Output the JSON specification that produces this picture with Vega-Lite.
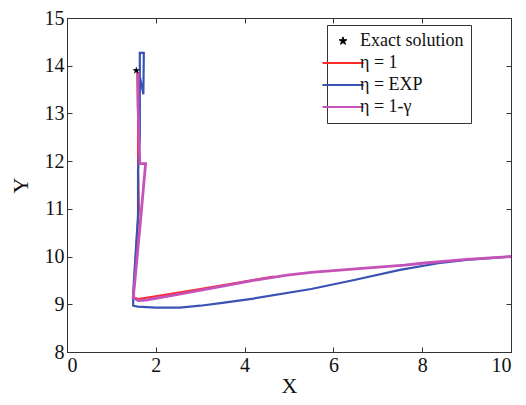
{
  "$schema": "https://vega.github.io/schema/vega-lite/v6.json",
  "width": 444,
  "height": 334,
  "autosize": "none",
  "padding": {"left": 67, "top": 18, "right": 15, "bottom": 53},
  "background": "white",
  "config": {
    "font": "Liberation Serif",
    "view": {"stroke": "#333", "strokeWidth": 1},
    "axis": {"grid": false, "domainColor": "#333", "tickColor": "#333", "tickSize": 5}
  },
  "data": {"values": [
    {"series": "Exact solution", "i": 0, "x": 1.56, "y": 13.9},
    {"series": "η = 1", "i": 0, "x": 4.66, "y": 9.58},
    {"series": "η = 1", "i": 1, "x": 4.0, "y": 9.48},
    {"series": "η = 1", "i": 2, "x": 3.0, "y": 9.32},
    {"series": "η = 1", "i": 3, "x": 2.0, "y": 9.17},
    {"series": "η = 1", "i": 4, "x": 1.6, "y": 9.11},
    {"series": "η = 1", "i": 5, "x": 1.5, "y": 9.15},
    {"series": "η = 1", "i": 6, "x": 1.52, "y": 9.5},
    {"series": "η = 1", "i": 7, "x": 1.58, "y": 10.5},
    {"series": "η = 1", "i": 8, "x": 1.62, "y": 11.0},
    {"series": "η = 1", "i": 9, "x": 1.6, "y": 12.0},
    {"series": "η = 1", "i": 10, "x": 1.6, "y": 13.0},
    {"series": "η = 1", "i": 11, "x": 1.58, "y": 13.87},
    {"series": "η = EXP", "i": 0, "x": 10.0, "y": 10.0},
    {"series": "η = EXP", "i": 1, "x": 9.0, "y": 9.93},
    {"series": "η = EXP", "i": 2, "x": 8.36, "y": 9.86},
    {"series": "η = EXP", "i": 3, "x": 7.5, "y": 9.72},
    {"series": "η = EXP", "i": 4, "x": 6.47, "y": 9.51},
    {"series": "η = EXP", "i": 5, "x": 5.5, "y": 9.32},
    {"series": "η = EXP", "i": 6, "x": 4.2, "y": 9.12},
    {"series": "η = EXP", "i": 7, "x": 3.5, "y": 9.03},
    {"series": "η = EXP", "i": 8, "x": 3.0, "y": 8.97},
    {"series": "η = EXP", "i": 9, "x": 2.54, "y": 8.93},
    {"series": "η = EXP", "i": 10, "x": 2.0, "y": 8.93},
    {"series": "η = EXP", "i": 11, "x": 1.6, "y": 8.95},
    {"series": "η = EXP", "i": 12, "x": 1.49, "y": 8.97},
    {"series": "η = EXP", "i": 13, "x": 1.49, "y": 9.23},
    {"series": "η = EXP", "i": 14, "x": 1.6, "y": 10.87},
    {"series": "η = EXP", "i": 15, "x": 1.6, "y": 11.8},
    {"series": "η = EXP", "i": 16, "x": 1.64, "y": 12.5},
    {"series": "η = EXP", "i": 17, "x": 1.64, "y": 14.27},
    {"series": "η = EXP", "i": 18, "x": 1.73, "y": 14.27},
    {"series": "η = EXP", "i": 19, "x": 1.72, "y": 13.4},
    {"series": "η = EXP", "i": 20, "x": 1.62, "y": 13.87},
    {"series": "η = 1-γ", "i": 0, "x": 10.0, "y": 10.0},
    {"series": "η = 1-γ", "i": 1, "x": 9.0, "y": 9.94},
    {"series": "η = 1-γ", "i": 2, "x": 8.0, "y": 9.86},
    {"series": "η = 1-γ", "i": 3, "x": 7.6, "y": 9.82},
    {"series": "η = 1-γ", "i": 4, "x": 6.5, "y": 9.74},
    {"series": "η = 1-γ", "i": 5, "x": 5.5, "y": 9.67},
    {"series": "η = 1-γ", "i": 6, "x": 4.96, "y": 9.61},
    {"series": "η = 1-γ", "i": 7, "x": 4.2, "y": 9.5},
    {"series": "η = 1-γ", "i": 8, "x": 3.45, "y": 9.37},
    {"series": "η = 1-γ", "i": 9, "x": 2.5, "y": 9.21},
    {"series": "η = 1-γ", "i": 10, "x": 1.78, "y": 9.09},
    {"series": "η = 1-γ", "i": 11, "x": 1.6, "y": 9.08},
    {"series": "η = 1-γ", "i": 12, "x": 1.49, "y": 9.14},
    {"series": "η = 1-γ", "i": 13, "x": 1.52, "y": 9.4},
    {"series": "η = 1-γ", "i": 14, "x": 1.66, "y": 10.8},
    {"series": "η = 1-γ", "i": 15, "x": 1.77, "y": 11.95},
    {"series": "η = 1-γ", "i": 16, "x": 1.64, "y": 11.95},
    {"series": "η = 1-γ", "i": 17, "x": 1.62, "y": 12.5},
    {"series": "η = 1-γ", "i": 18, "x": 1.6, "y": 13.2},
    {"series": "η = 1-γ", "i": 19, "x": 1.6, "y": 13.87}
  ]},
  "layer": [
    {
      "encoding": {
        "x": {"field": "x", "type": "quantitative", "scale": {"domain": [0, 10], "nice": false}, "axis": {"title": "X", "values": [0, 2, 4, 6, 8, 10], "titlePadding": 0, "labelFont": "Liberation Serif", "labelFontSize": 20, "labelColor": "#111", "titleFont": "Liberation Serif", "titleFontSize": 22, "titleFontWeight": "normal", "titleColor": "#111", "tickSize": -5, "labelPadding": 8}},
        "y": {"field": "y", "type": "quantitative", "scale": {"domain": [8, 15], "nice": false, "zero": false}, "axis": {"title": "Y", "values": [8, 9, 10, 11, 12, 13, 14, 15], "titlePadding": 12, "labelFont": "Liberation Serif", "labelFontSize": 20, "labelColor": "#111", "titleFont": "Liberation Serif", "titleFontSize": 22, "titleFontWeight": "normal", "titleColor": "#111", "tickSize": -5, "labelPadding": 8}},
        "color": {
          "field": "series", "type": "nominal",
          "scale": {"domain": ["Exact solution", "η = 1", "η = EXP", "η = 1-γ"], "range": ["black", "#ff2a2a", "#3a52b4", "#c452b8"]},
          "legend": {
            "title": null, "orient": "none", "legendX": 260, "legendY": 7,
            "strokeColor": "#333", "fillColor": "white", "padding": 7,
            "labelFont": "Liberation Serif", "labelFontSize": 18, "labelColor": "#111",
            "symbolSize": 1681, "symbolStrokeWidth": 2, "rowPadding": 4, "labelOffset": 8,
            "encode": {"symbols": {"update": {
              "shape": {"signal": "datum.value === 'Exact solution' ? 'M0,-0.2L0.045,-0.062L0.19,-0.062L0.073,0.024L0.118,0.162L0,0.076L-0.118,0.162L-0.073,0.024L-0.19,-0.062L-0.045,-0.062Z' : 'stroke'"},
              "fill": {"signal": "datum.value === 'Exact solution' ? 'black' : 'transparent'"},
              "strokeWidth": {"signal": "datum.value === 'Exact solution' ? 1 : 2"}
            }}}
          }
        }
      },
      "layer": [
        {"transform": [{"filter": "datum.series === 'η = 1'"}], "mark": {"type": "line", "strokeWidth": 2}, "encoding": {"order": {"field": "i", "type": "quantitative"}}},
        {"transform": [{"filter": "datum.series === 'η = EXP'"}], "mark": {"type": "line", "strokeWidth": 2.2}, "encoding": {"order": {"field": "i", "type": "quantitative"}}},
        {"transform": [{"filter": "datum.series === 'η = 1-γ'"}], "mark": {"type": "line", "strokeWidth": 2.8}, "encoding": {"order": {"field": "i", "type": "quantitative"}}},
        {"transform": [{"filter": "datum.series === 'Exact solution'"}], "mark": {"type": "point", "filled": true, "size": 1681, "opacity": 1, "shape": "M0,-0.2L0.045,-0.062L0.19,-0.062L0.073,0.024L0.118,0.162L0,0.076L-0.118,0.162L-0.073,0.024L-0.19,-0.062L-0.045,-0.062Z"}}
      ]
    },
    {"mark": {"type": "point", "opacity": 0}, "encoding": {"x": {"field": "x", "type": "quantitative", "axis": {"orient": "top", "labels": false, "title": null, "tickSize": -5, "values": [0, 2, 4, 6, 8, 10]}}, "y": {"field": "y", "type": "quantitative", "axis": {"orient": "right", "labels": false, "title": null, "tickSize": -5, "values": [8, 9, 10, 11, 12, 13, 14, 15]}}}}
  ],
  "resolve": {"axis": {"x": "independent", "y": "independent"}}
}
